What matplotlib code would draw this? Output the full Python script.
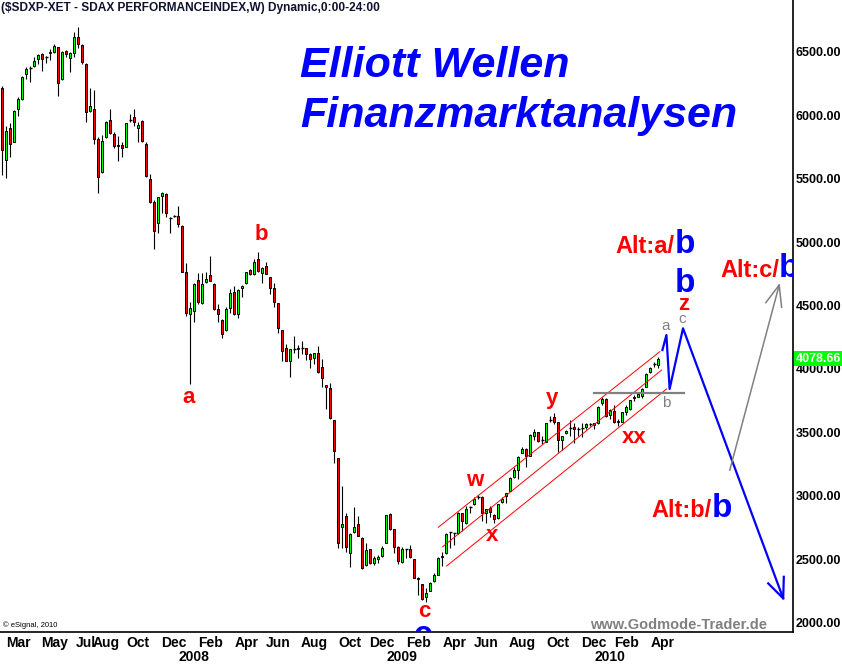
import numpy as np
import pandas as pd
import matplotlib
matplotlib.use('Agg')
import matplotlib.pyplot as plt
import matplotlib.transforms as mtransforms

plt.rcParams['font.family'] = ['Liberation Sans', 'DejaVu Sans']

# weekly SDAX candles
opens = [6211, 5646, 5901, 5791, 6046, 6127, 6324, 6374, 6390, 6442,
         6482, 6456, 6487, 6495, 6535, 6282, 6506, 6448, 6487, 6613,
         6553, 6403, 6033, 6048, 5810, 5549, 5825, 5962, 5851, 5764,
         5764, 5751, 5962, 5983, 5896, 5954, 5772, 5497, 5313, 5148,
         5365, 5378, 5187, 5205, 5205, 5126, 4766, 4430, 4459, 4701,
         4517, 4687, 4740, 4669, 4472, 4385, 4307, 4482, 4604, 4433,
         4635, 4675, 4780, 4746, 4864, 4758, 4813, 4722, 4635, 4517,
         4307, 4162, 4065, 4155, 4155, 4162, 4162, 4115, 4084, 4123,
         4013, 3873, 3847, 3597, 3296, 2757, 2841, 2547, 2717, 2775,
         2670, 2455, 2578, 2473, 2500, 2526, 2630, 2857, 2738, 2599,
         2481, 2578, 2578, 2500, 2355, 2303, 2200, 2252, 2331, 2376,
         2515, 2547, 2712, 2704, 2704, 2862, 2783, 2909, 2933, 2993,
         2993, 2862, 2906, 2848, 2822, 2954, 2998, 3040, 3150, 3203,
         3340, 3367, 3316, 3471, 3500, 3440, 3426, 3597, 3618, 3579,
         3440, 3493, 3532, 3540, 3524, 3532, 3545, 3566, 3571, 3571,
         3729, 3763, 3637, 3668, 3583, 3579, 3663, 3682, 3768, 3781,
         3786, 3855, 3973, 4039, 4031]
highs = [6230, 5914, 5940, 6040, 6140, 6305, 6382, 6390, 6461, 6479,
         6487, 6466, 6521, 6558, 6540, 6506, 6513, 6500, 6653, 6697,
         6558, 6409, 6211, 6198, 5825, 5843, 5956, 6048, 5864, 5838,
         5786, 5941, 6007, 6046, 5944, 5962, 5791, 5536, 5331, 5357,
         5392, 5386, 5200, 5213, 5284, 5134, 4832, 4525, 4675, 4758,
         4758, 4766, 4890, 4679, 4515, 4390, 4486, 4630, 4654, 4627,
         4661, 4766, 4788, 4866, 4919, 4806, 4845, 4727, 4675, 4522,
         4310, 4196, 4160, 4259, 4189, 4220, 4167, 4123, 4127, 4180,
         4078, 3876, 3887, 3600, 3300, 3077, 2867, 2709, 2909, 2841,
         2678, 2626, 2581, 2526, 2534, 2607, 2852, 2867, 2741, 2607,
         2599, 2581, 2612, 2503, 2358, 2306, 2271, 2323, 2390, 2520,
         2560, 2705, 2717, 2709, 2875, 2867, 2919, 2919, 2993, 3006,
         2998, 2896, 2919, 2856, 2935, 2993, 3024, 3150, 3229, 3314,
         3382, 3375, 3487, 3524, 3502, 3471, 3573, 3629, 3650, 3583,
         3474, 3519, 3597, 3576, 3545, 3571, 3571, 3571, 3573, 3708,
         3781, 3768, 3682, 3716, 3603, 3663, 3716, 3755, 3794, 3808,
         3847, 3970, 4013, 4057, 4091]
lows = [5528, 5502, 5672, 5785, 5996, 6119, 6285, 6263, 6382, 6401,
        6350, 6408, 6435, 6487, 6153, 6277, 6461, 6342, 6461, 6527,
        6401, 5948, 6022, 5770, 5384, 5545, 5820, 5851, 5743, 5641,
        5672, 5748, 5944, 5914, 5786, 5791, 5515, 5310, 4945, 5069,
        5229, 5200, 5069, 5195, 5121, 4761, 4419, 3879, 4372, 4509,
        4512, 4679, 4690, 4464, 4372, 4246, 4300, 4443, 4425, 4399,
        4569, 4672, 4742, 4742, 4766, 4675, 4745, 4588, 4486, 4285,
        4065, 4062, 3938, 4124, 4088, 4115, 4070, 4010, 4040, 3970,
        3860, 3684, 3605, 3261, 2587, 2587, 2560, 2436, 2704, 2680,
        2425, 2449, 2463, 2455, 2468, 2520, 2627, 2730, 2547, 2463,
        2468, 2507, 2507, 2350, 2218, 2180, 2160, 2250, 2323, 2373,
        2449, 2544, 2586, 2612, 2701, 2725, 2780, 2862, 2931, 2972,
        2804, 2788, 2835, 2783, 2814, 2946, 2946, 3038, 3138, 3132,
        3335, 3225, 3314, 3440, 3426, 3408, 3421, 3583, 3565, 3348,
        3361, 3487, 3471, 3419, 3471, 3461, 3524, 3552, 3524, 3566,
        3716, 3619, 3603, 3576, 3550, 3579, 3637, 3676, 3747, 3776,
        3768, 3855, 3965, 4013, 4005]
closes = [5725, 5875, 5773, 6033, 6127, 6298, 6364, 6374, 6427, 6471,
          6442, 6456, 6495, 6545, 6251, 6498, 6479, 6487, 6613, 6558,
          6416, 6022, 6075, 5810, 5510, 5796, 5944, 5862, 5759, 5756,
          5743, 5936, 5962, 5944, 5922, 5796, 5523, 5318, 5089, 5353,
          5384, 5226, 5187, 5205, 5140, 4766, 4438, 4478, 4667, 4530,
          4667, 4708, 4696, 4472, 4430, 4273, 4472, 4596, 4433, 4622,
          4656, 4761, 4746, 4840, 4772, 4798, 4748, 4635, 4525, 4320,
          4143, 4065, 4155, 4155, 4167, 4162, 4115, 4076, 4123, 3973,
          3926, 3855, 3615, 3355, 2626, 2775, 2599, 2699, 2752, 2683,
          2429, 2573, 2473, 2512, 2520, 2586, 2849, 2738, 2594, 2489,
          2581, 2578, 2515, 2355, 2342, 2184, 2231, 2315, 2376, 2508,
          2526, 2697, 2712, 2704, 2867, 2804, 2893, 2909, 2972, 2993,
          2862, 2893, 2870, 2817, 2933, 2975, 3020, 3138, 3203, 3303,
          3367, 3314, 3479, 3505, 3432, 3440, 3571, 3597, 3583, 3440,
          3471, 3513, 3532, 3524, 3524, 3532, 3566, 3566, 3558, 3697,
          3763, 3629, 3676, 3583, 3592, 3658, 3697, 3755, 3781, 3802,
          3842, 3957, 4005, 4039, 4078.66]

start_week = '2007-02-05'
month_ticks = ['2007-03', '2007-05', '2007-07', '2007-08', '2007-10', '2007-12',
               '2008-02', '2008-04', '2008-06', '2008-08', '2008-10', '2008-12',
               '2009-02', '2009-04', '2009-06', '2009-08', '2009-10', '2009-12',
               '2010-02', '2010-04']
year_ticks = ['2008-01', '2009-01', '2010-01']

# trend channel (week index, value)
chan_upper = ([109.0, 164.4], [2752, 4136])
chan_mid = ([110.1, 164.85], [2599, 3991])
chan_low = ([111.1, 166.1], [2447, 3842])
b_level = ([148.0, 170.4], [3808, 3808])
# projections
blue_x = [165.05, 166.05, 166.85, 170.2, 195.25]
blue_y = [4149, 4267, 3842, 4320, 2192]
blue_head_x = [191.5, 195.25, 195.4]
blue_head_y = [2310, 2192, 2362]
gray_x = [181.9, 194.25]
gray_y = [3203, 4661]
gray_head_x = [190.9, 194.25, 194.85]
gray_head_y = [4522, 4661, 4486]

o = np.array(opens, float)
h = np.array(highs, float)
l = np.array(lows, float)
c = np.array(closes, float)
x = np.arange(len(c))

weeks = pd.date_range(start_week, periods=260, freq='7D')
def week_pos(m):
    return int(np.searchsorted(weeks, pd.Timestamp(m + '-01')))

fig = plt.figure(figsize=(8.42, 6.64), dpi=100)
ax = fig.add_axes([0, 32 / 664, 793 / 842, 632 / 664])

ax.vlines(x, l, h, color='black', linewidth=0.8, zorder=2)
up = c > o
dn = c < o
fl = c == o
ax.bar(x[up], (c - o)[up], bottom=o[up], width=0.6, color='#00ff00',
       edgecolor='black', linewidth=0.7, zorder=3)
ax.bar(x[dn], (o - c)[dn], bottom=c[dn], width=0.6, color='#ff0000',
       edgecolor='black', linewidth=0.7, zorder=3)
ax.hlines(c[fl], x[fl] - 0.35, x[fl] + 0.35, color='black', linewidth=1.0, zorder=3)

for xs, ys in (chan_upper, chan_mid, chan_low):
    ax.plot(xs, ys, color='#ff0000', linewidth=0.7, zorder=4)
ax.plot(*b_level, color='#808080', linewidth=1.6, zorder=4)
ax.plot(blue_x, blue_y, color='#0000ff', linewidth=1.6, zorder=5)
ax.plot(blue_head_x, blue_head_y, color='#0000ff', linewidth=1.6, zorder=5)
ax.plot(gray_x, gray_y, color='#808080', linewidth=1.1, zorder=5)
ax.plot(gray_head_x, gray_head_y, color='#808080', linewidth=1.1, zorder=5)

ax.set_xlim(-0.575, 197.7)
ax.set_ylim(1927, 6907)

# axes styling
for s in ('left', 'top'):
    ax.spines[s].set_visible(False)
ax.spines['bottom'].set_linewidth(1.2)
ax.spines['right'].set_linewidth(1.2)
ax.yaxis.tick_right()
yt = np.arange(2000, 6501, 500)
ax.set_yticks(yt)
ax.set_yticklabels([f'{v:.2f}' for v in yt], fontsize=9, fontweight='bold')
ax.set_xticks([week_pos(m) for m in month_ticks])
ax.set_xticklabels([pd.Timestamp(m + '-01').strftime('%b') for m in month_ticks],
                   fontsize=10, fontweight='bold')
ax.tick_params(axis='both', length=0)
ax.tick_params(axis='x', pad=3)
ax.tick_params(axis='y', pad=2)
trans_x = mtransforms.blended_transform_factory(ax.transData, ax.transAxes)
for yk in year_ticks:
    ax.text(week_pos(yk), -0.039, yk[:4], transform=trans_x, ha='center', va='center',
            fontsize=10, fontweight='bold')

# last price box
trans_y = mtransforms.blended_transform_factory(ax.transAxes, ax.transData)
ax.text(1.003, c[-1], f'{c[-1]:.2f}', transform=trans_y, ha='left', va='center',
        fontsize=9, fontweight='bold', color='white', clip_on=False, zorder=6,
        bbox=dict(boxstyle='square,pad=0.12', fc='#00ff00', ec='none'))

# titles
ax.text(0.001, 1 - 8 / 632, '($SDXP-XET - SDAX PERFORMANCEINDEX,W) Dynamic,0:00-24:00',
        transform=ax.transAxes, ha='left', va='center', fontsize=8.6, fontweight='bold',
        color='#101030')
ax.text(300 / 793, 1 - 77 / 632, 'Elliott Wellen', transform=ax.transAxes,
        ha='left', va='baseline', fontsize=31, fontweight='bold', style='italic', color='#0000ff')
ax.text(300 / 793, 1 - 127 / 632, 'Finanzmarktanalysen', transform=ax.transAxes,
        ha='left', va='baseline', fontsize=31, fontweight='bold', style='italic', color='#0000ff')
ax.text(0.004, 1 - 625 / 632, '\u00a9 eSignal, 2010', transform=ax.transAxes,
        ha='left', va='center', fontsize=5.5, color='black')
ax.text(767 / 793, 1 - 625 / 632, 'www.Godmode-Trader.de', transform=ax.transAxes,
        ha='right', va='center', fontsize=10.5, fontweight='bold', color='#808080')

# wave labels
red_lbl = dict(color='#ff0000', fontsize=16, fontweight='bold', ha='center', va='center')
for t, xi, yv in [('a', 46.5, 3776), ('b', 64.85, 5061), ('c', 105.5, 2092),
                  ('w', 118.2, 3119), ('x', 122.5, 2691), ('y', 137.35, 3768),
                  ('xx', 158.1, 3463), ('z', 170.4, 4504)]:
    ax.text(xi, yv, t, **red_lbl, zorder=6)
gray_lbl = dict(color='#808080', fontsize=11, ha='center', va='center')
for t, xi, yv in [('a', 165.9, 4338), ('c', 170.1, 4391), ('b', 166.1, 3729)]:
    ax.text(xi, yv, t, **gray_lbl, zorder=6)
ax.text(170.7, 4675, 'b', color='#0000ff', fontsize=24, fontweight='bold',
        ha='center', va='center', zorder=6)
# blue wave c, mostly hidden below the plot area
ax.text(105.25, 1832, 'c', color='#0000ff', fontsize=24, fontweight='bold',
        ha='center', va='baseline', zorder=6, clip_on=True)

for alt, xi, yv in [('Alt:a/', 168.2, 4916), ('Alt:c/', 194.25, 4727), ('Alt:b/', 177.35, 2835)]:
    ax.text(xi, yv, alt, color='#ff0000', fontsize=17, fontweight='bold',
            ha='right', va='baseline', zorder=6, clip_on=True)
    ax.text(xi, yv, 'b', color='#0000ff', fontsize=24, fontweight='bold',
            ha='left', va='baseline', zorder=6, clip_on=True)

fig.savefig('out.png', dpi=100)
